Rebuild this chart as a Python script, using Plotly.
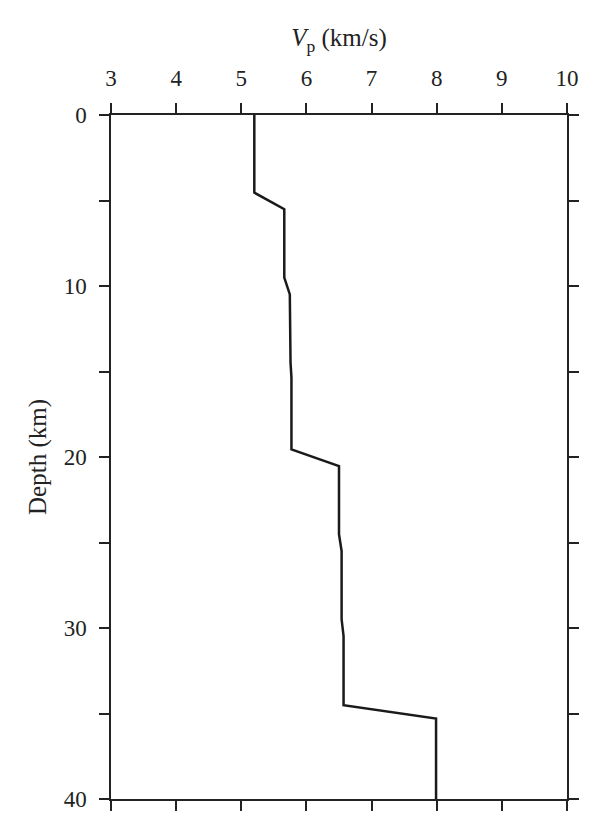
import plotly.graph_objects as go

# Velocity model (piecewise profile)
vp_kms = [5.20, 5.20, 5.66, 5.66, 5.745, 5.756, 5.77, 5.77, 6.50, 6.50, 6.54, 6.54, 6.57, 6.57, 7.99, 7.99]
depth_km = [0.0, 4.54, 5.51, 9.51, 10.49, 14.48, 15.36, 19.55, 20.53, 24.52, 25.5, 29.49, 30.47, 34.52, 35.3, 40.0]

x_ticks = [3, 4, 5, 6, 7, 8, 9, 10]
y_ticks = [0, 10, 20, 30, 40]
y_minor_ticks = [5, 15, 25, 35]

font_family = "Liberation Serif, Times New Roman, serif"
ink = "#222"

fig = go.Figure()
fig.add_trace(go.Scatter(
    x=vp_kms, y=depth_km, mode="lines",
    line=dict(color="#1a1a1a", width=2.5),
    showlegend=False, hoverinfo="skip",
))

fig.update_layout(
    width=600, height=834,
    margin=dict(l=103, r=41, t=107, b=43),
    paper_bgcolor="white", plot_bgcolor="white",
    font=dict(family=font_family, size=22, color=ink),
)
fig.update_xaxes(
    side="top", range=[3, 10], tickvals=x_ticks, ticktext=[str(v) for v in x_ticks],
    ticks="outside", ticklen=10, tickwidth=1.5, tickcolor=ink,
    showline=True, linewidth=1.5, linecolor=ink, mirror="ticks",
    showgrid=False, zeroline=False, automargin=False,
    ticklabelstandoff=8,
    tickfont=dict(family=font_family, size=23, color=ink),
    title=dict(text="<i>V</i><sub>p</sub> (km/s)", font=dict(family=font_family, size=25, color=ink), standoff=12),
)
fig.update_yaxes(
    range=[40, 0], tickvals=y_ticks, ticktext=[str(v) for v in y_ticks],
    ticks="outside", ticklen=10, tickwidth=1.5, tickcolor=ink,
    minor=dict(tickvals=y_minor_ticks, ticks="outside", ticklen=10, tickwidth=1.5, tickcolor=ink, showgrid=False),
    showline=True, linewidth=1.5, linecolor=ink, mirror="ticks",
    showgrid=False, zeroline=False, automargin=False,
    ticklabelstandoff=8,
    tickfont=dict(family=font_family, size=23, color=ink),
    title=dict(text="Depth (km)", font=dict(family=font_family, size=25, color=ink), standoff=10),
)

fig.write_html("out.html")
